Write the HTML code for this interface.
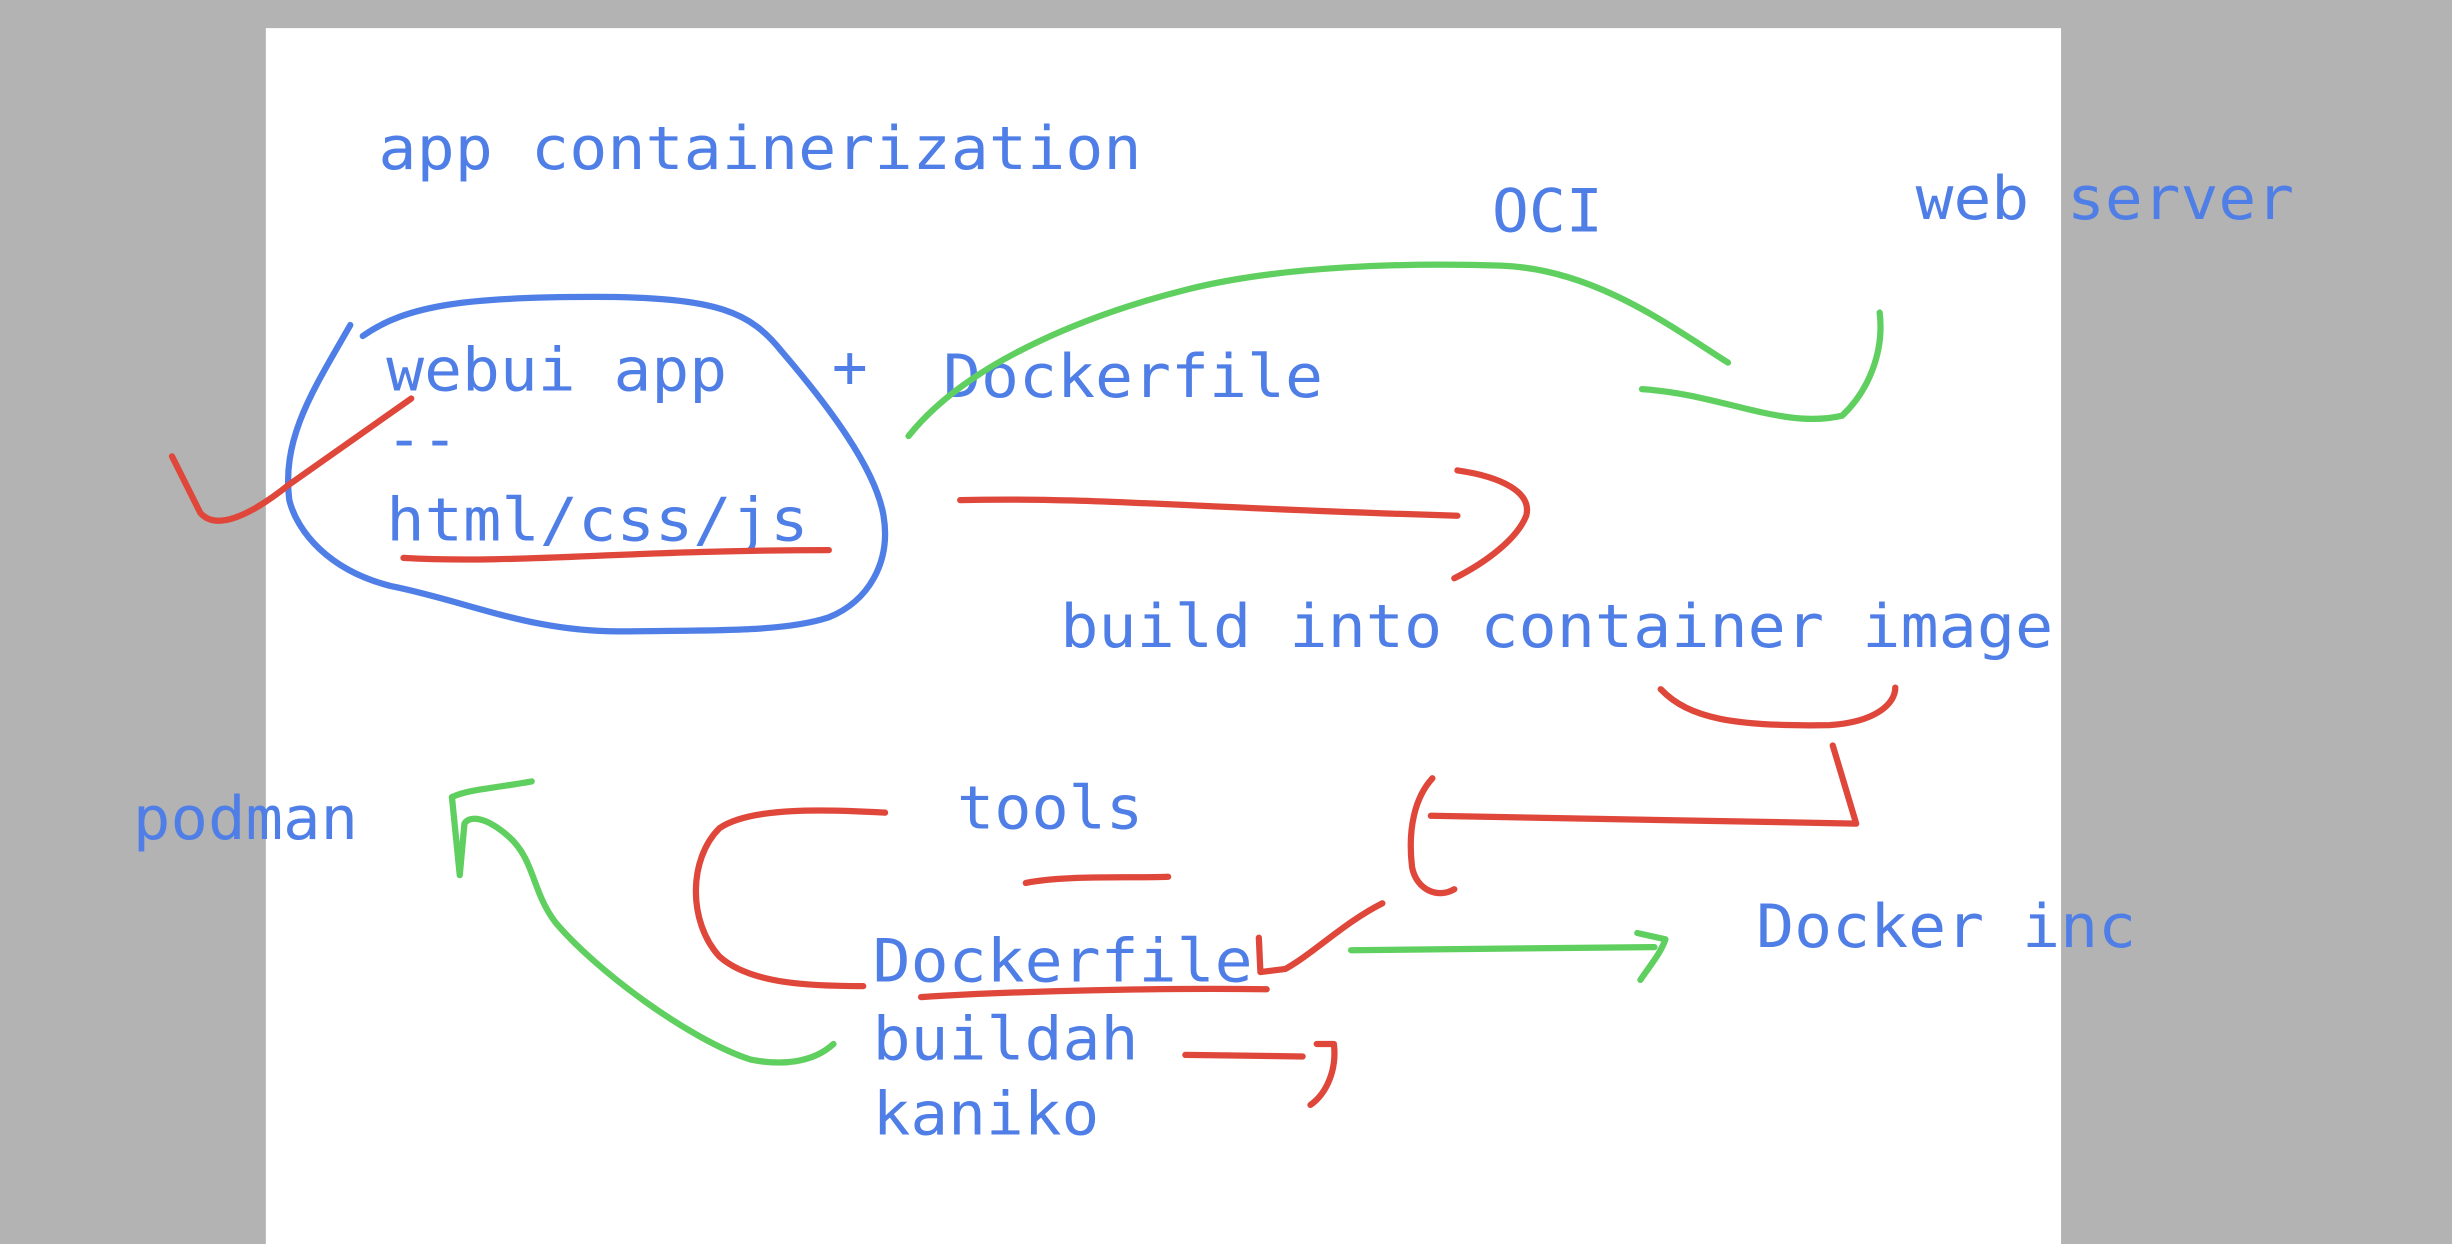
<!DOCTYPE html>
<html><head><meta charset="utf-8"><style>
html,body{margin:0;padding:0;background:#b3b3b3;}
svg{display:block;}
text{font-family:"DejaVu Sans Mono","Liberation Mono",monospace;font-size:38px;fill:#4f7fe6;}
.r{stroke:#e0473b;}.g{stroke:#5fcf5f;}.b{stroke:#4f7fe6;}
path{fill:none;stroke-width:4;stroke-linecap:round;stroke-linejoin:round;}
</style></head><body>
<svg width="2452" height="1244" viewBox="0 0 1568 796" preserveAspectRatio="none" xmlns="http://www.w3.org/2000/svg">
<rect x="0" y="0" width="1568" height="796" fill="#b3b3b3"/>
<rect x="170" y="18" width="1148" height="778" fill="#ffffff"/>
<text x="242" y="108" textLength="488" lengthAdjust="spacingAndGlyphs">app containerization</text>
<text x="954" y="148" textLength="71" lengthAdjust="spacingAndGlyphs">OCI</text>
<text x="1225" y="140" textLength="242" lengthAdjust="spacingAndGlyphs">web server</text>
<text x="247" y="250" textLength="218" lengthAdjust="spacingAndGlyphs">webui app</text>
<text x="532" y="248">+</text>
<text x="603" y="254" textLength="243" lengthAdjust="spacingAndGlyphs">Dockerfile</text>
<text x="247" y="294">--</text>
<text x="247" y="346" textLength="270" lengthAdjust="spacingAndGlyphs">html/css/js</text>
<text x="678" y="414" textLength="635" lengthAdjust="spacingAndGlyphs">build into container image</text>
<text x="85" y="537" textLength="144" lengthAdjust="spacingAndGlyphs">podman</text>
<text x="612" y="530" textLength="119" lengthAdjust="spacingAndGlyphs">tools</text>
<text x="558" y="628" textLength="243" lengthAdjust="spacingAndGlyphs">Dockerfile</text>
<text x="558" y="678" textLength="170" lengthAdjust="spacingAndGlyphs">buildah</text>
<text x="558" y="726" textLength="145" lengthAdjust="spacingAndGlyphs">kaniko</text>
<text x="1123" y="606" textLength="243" lengthAdjust="spacingAndGlyphs">Docker inc</text>

<path class="b" d="M232,215 C260,195 300,190 380,190 C460,190 480,200 500,225 C530,260 560,300 565,330 C570,360 555,385 530,395 C500,405 450,403 400,404 C340,405 300,385 250,375 C210,365 190,340 185,320 C180,280 200,250 224,208"/>
<path class="r" d="M110,292 L128,328 C138,340 160,330 185,310 L263,255"/>
<path class="r" d="M258,357 C330,361 400,352 530,352"/>
<path class="g" d="M581,279 C620,230 700,200 760,185 C820,170 900,168 960,170 C1020,172 1070,210 1105,232"/>
<path class="g" d="M1050,249 C1100,252 1140,275 1178,266 C1195,250 1205,225 1202,200"/>
<path class="r" d="M614,320 C700,318 760,325 932,330"/>
<path class="r" d="M932,301 C960,305 980,315 976,330 C970,345 950,360 930,370"/>
<path class="r" d="M1062,441 C1080,460 1110,465 1170,464 C1200,462 1212,450 1212,440"/>
<path class="r" d="M1172,477 L1187,527 L915,522"/>
<path class="r" d="M916,498 C905,510 900,530 903,555 C906,570 920,575 930,569"/>
<path class="r" d="M884,578 C860,590 840,610 822,620 L806,622 L805,600"/>
<path class="r" d="M656,565 C680,560 720,562 747,561"/>
<path class="r" d="M566,520 C530,518 480,516 460,530 C440,550 440,590 460,612 C480,630 520,631 552,631"/>
<path class="r" d="M589,638 C650,634 750,632 810,633"/>
<path class="r" d="M758,675 L833,676"/>
<path class="r" d="M842,668 L853,668 C855,685 848,700 838,707"/>
<path class="g" d="M864,608 L1058,606"/>
<path class="g" d="M1047,597 L1065,601 C1062,610 1055,618 1049,627"/>
<path class="g" d="M533,668 C520,680 500,682 480,678 C440,665 380,620 355,590 C340,570 342,550 325,535 C310,522 300,522 297,527 L294,560 L289,510 C300,505 312,505 340,500"/>
</svg>
</body></html>
